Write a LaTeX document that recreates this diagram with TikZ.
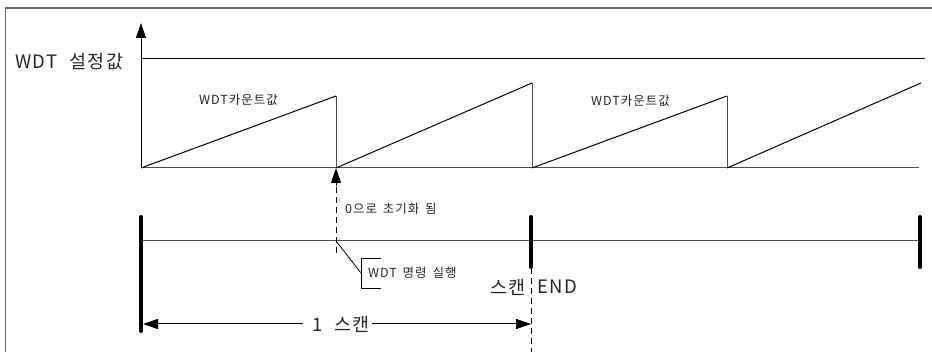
\documentclass[tikz,border=0pt]{standalone}
\usepackage{fontspec}
\setmainfont{Noto Sans CJK KR}
\newfontfamily\bigfnt[LetterSpace=8]{Noto Sans CJK KR}
\newfontfamily\smallfnt[LetterSpace=8]{Noto Sans CJK KR}
\usetikzlibrary{arrows.meta}
\begin{document}
\begin{tikzpicture}[x=1pt,y=-1pt,
  frame/.style={line width=1.5pt, draw=black!60},
  hline/.style={line width=1pt, draw=black!70},
  saw/.style={line width=1pt, draw=black, line join=miter},
  bar/.style={line width=4pt, line cap=round},
  dashline/.style={line width=1pt, dash pattern=on 6pt off 4pt},
  tip/.style={-{Triangle[length=15pt,width=10pt]}},
  small/.style={font=\smallfnt\fontsize{12.5}{14}\selectfont, inner sep=0pt, text=black!85},
  big/.style={font=\bigfnt\fontsize{18.5}{20}\selectfont, inner sep=0pt, text=black!85}]
\useasboundingbox (0,0) rectangle (932,352);
% open frame
\coordinate (FA) at (5.5,352);
\coordinate (FB) at (5.5,8);
\coordinate (FC) at (932,8);
\draw[frame] (FA) -- (FB) -- (FC);
% axes
\coordinate (O) at (141,168);
\coordinate (Ytop) at (141,23);
\coordinate (S0) at (141,59);
\coordinate (S1) at (925,59);
\coordinate (B1) at (919,168);
\draw[line width=1pt, tip] (O) -- (Ytop);
\draw[line width=1pt] (S0) -- (S1);
\draw[hline] (O) -- (B1);
% sawtooth
\coordinate (P1) at (336,96);  \coordinate (D1) at (336,168);
\coordinate (P2) at (532,83);  \coordinate (D2) at (532,168);
\coordinate (P3) at (727,96);  \coordinate (D3) at (727,168);
\coordinate (P4) at (921,83);
\draw[saw] (O) -- (P1);
\draw[hline] (P1) -- (D1);
\draw[saw] (D1) -- (P2);
\draw[hline] (P2) -- (D2);
\draw[saw] (D2) -- (P3);
\draw[hline] (P3) -- (D3);
\draw[saw] (D3) -- (P4);
% labels on graph
\node[big, anchor=west] (set) at (15,62) {WDT\hspace{6pt} 설정값};
\node[small, anchor=west] (cnt1) at (199,100) {WDT카운트값};
\node[small, anchor=west] (cnt2) at (591,101) {WDT카운트값};
% timeline
\coordinate (T0) at (141,241);
\coordinate (T1) at (920,241);
\draw[hline] (T0) -- (T1);
\coordinate (L0a) at (141,217); \coordinate (L0b) at (141,331);
\coordinate (Ma) at (531,217);  \coordinate (Mb) at (531,267);
\coordinate (Ra) at (920,217);  \coordinate (Rb) at (920,267);
\draw[bar] (L0a) -- (L0b);
\draw[bar] (Ma) -- (Mb);
\draw[bar] (Ra) -- (Rb);
% reset arrow
\coordinate (R0) at (336,253);
\coordinate (R1) at (336,184);
\coordinate (R2) at (336,186);
\draw[dashline] (R0) -- (R1);
\draw[line width=1pt, tip] (R2) -- (D1);
\node[small, anchor=west] (reset) at (345,209) {0으로\hspace{2pt} 초기화\hspace{2pt} 됨};
% WDT command leader
\coordinate (C0) at (336,241);
\coordinate (C1) at (361,273);
\coordinate (Ba) at (381,258); \coordinate (Bb) at (361,258);
\coordinate (Bc) at (361,288); \coordinate (Bd) at (381,288);
\draw[line width=0.8pt] (C0) -- (C1);
\draw[line width=0.8pt] (Ba) -- (Bb) -- (Bc) -- (Bd);
\node[small, anchor=west] (cmd) at (368,273) {WDT\hspace{2pt} 명령\hspace{2pt} 실행};
% scan end
\coordinate (E0) at (531,268);
\coordinate (E1) at (531,352);
\draw[dashline] (E0) -- (E1);
\node[big, anchor=east] (scan) at (526,287) {스캔};
\node[big, anchor=west] (end) at (537,287) {END};
% 1 scan dimension
\node[big, anchor=west] (one) at (312,324) {1\hspace{6pt} 스캔};
\coordinate (A0) at (303,324);
\coordinate (A1) at (143,324);
\coordinate (A2) at (372,324);
\coordinate (A3) at (531,324);
\draw[line width=1pt, tip] (A0) -- (A1);
\draw[line width=1pt, tip] (A2) -- (A3);
\end{tikzpicture}
\end{document}
